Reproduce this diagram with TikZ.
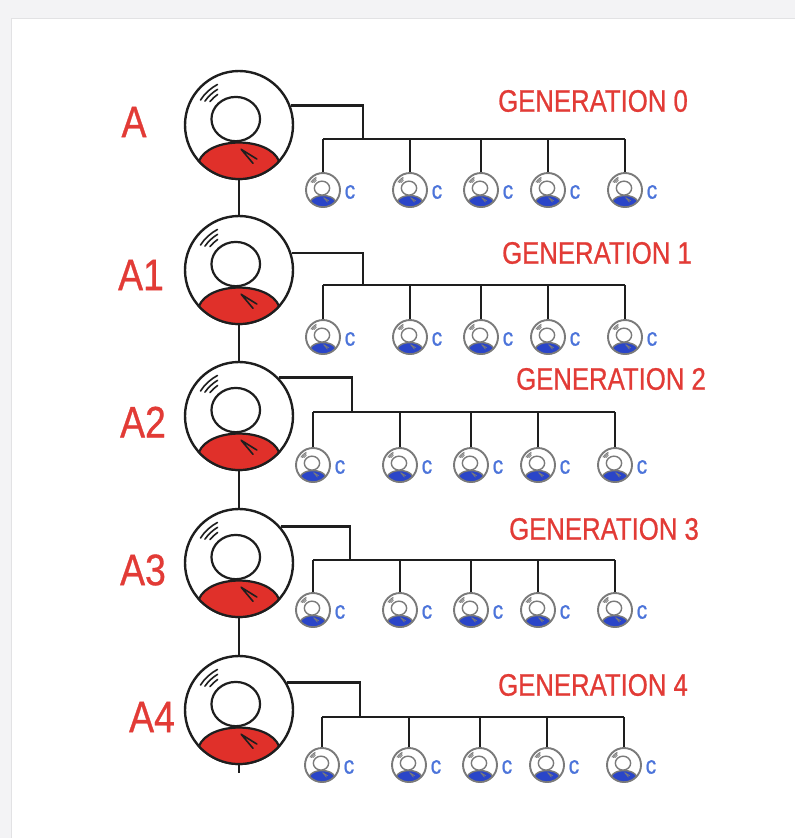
\documentclass[tikz,border=0pt]{standalone}
\usepackage{fontspec}
\setmainfont{Liberation Sans}
\newfontfamily\lettering[FakeBold=0.8]{Liberation Sans}
\definecolor{ink}{HTML}{1E1E1E}
\definecolor{redfill}{HTML}{E0302A}
\definecolor{redtext}{HTML}{E23B36}
\definecolor{bluefill}{HTML}{2A45C8}
\definecolor{bluetext}{HTML}{4C74DA}
\definecolor{ringgray}{HTML}{7A7A7A}
\definecolor{pagegray}{HTML}{F3F3F5}
\definecolor{cardedge}{HTML}{E2E2E4}

\tikzset{
  bigring/.style={circle, draw=ink, line width=2.4pt, fill=white,
    minimum size=108pt, inner sep=0pt},
  smallring/.style={circle, draw=ringgray, line width=1.9pt, fill=white,
    minimum size=34pt, inner sep=0pt},
  wire/.style={draw=ink, line width=2.6pt},
  alab/.style={text=redtext, font=\lettering\fontsize{44}{44}\selectfont, xscale=0.85, inner sep=0pt},
  glab/.style={text=redtext, font=\lettering\fontsize{31}{31}\selectfont, xscale=0.83, inner sep=0pt},
  clab/.style={text=bluetext, font=\lettering\fontsize{25}{25}\selectfont, xscale=0.85, inner sep=0pt},
  % a person in a ring, drawn for unit radius: body fill, stroke, line width, thin width
  pics/person/.style n args={4}{code={
    \filldraw[fill=#1, draw=#2, line width=#3]
      (222:1) arc[start angle=222, end angle=318, radius=1]
      .. controls (0.55,-0.21) and (-0.55,-0.21) .. (222:1) -- cycle;
    \draw[#2, line width=#3, fill=white] (-0.06,0.11) ellipse [x radius=0.45, y radius=0.41];
    \draw[#2, line width=#4, line cap=round]
      (118:0.85) arc[start angle=118, end angle=147, radius=0.85]
      (121:0.77) arc[start angle=121, end angle=145, radius=0.77]
      (125:0.69) arc[start angle=125, end angle=141, radius=0.69];
    \draw[#2, line width=#4, line cap=round]
      (0.04,-0.45) -- (0.33,-0.63)
      (0.04,-0.45) -- (0.26,-0.71);
  }}
}

\begin{document}
\begin{tikzpicture}[x=1pt, y=1pt]
  \useasboundingbox (0,0) rectangle (795,-838);
  \fill[pagegray] (0,0) rectangle (795,-838);
  \filldraw[fill=white, draw=cardedge, line width=1pt] (11,-18) rectangle (810,-850);

  \foreach \g/\cy/\ang/\jx/\by/\sy/\kb/\gx/\gy/\ax/\ay/\lab in {
      0/125/21.7/363/139/190/323/593/101/134/122/A,
      1/270/18.3/363/285/337/323/597/253/141/275/A1,
      2/416/44.7/352/412/465/313/611/379/143/422/A2,
      3/563/41.8/350/560/610/313/604/529/143/570/A3,
      4/710/30.0/360/717/765/322/593/685/152/717/A4}
  {
    \node[bigring] (A\g) at (239,-\cy) {};
    \pic[scale=54] at (A\g) {person={redfill}{ink}{2.2pt}{1.6pt}};
    \node[alab] (L\g) at (\ax,-\ay) {\lab};
    \node[glab] (G\g) at (\gx,-\gy) {GENERATION \g};
    \coordinate (J\g) at (\jx,-\by);
    \draw[wire] (A\g.\ang) -| (J\g);
    \foreach \dx [count=\i] in {0,87,158,225,302} {
      \node[smallring] (c\g-\i) at (\kb+\dx,-\sy) {};
      \pic[scale=17] at (c\g-\i) {person={bluefill}{ringgray}{1.4pt}{0.8pt}};
      \node[clab] (t\g-\i) at ([xshift=27pt, yshift=-2pt]c\g-\i.center) {c};
      \draw[wire] (c\g-\i.north) -- (c\g-\i.north |- J\g);
    }
    \draw[wire] (c\g-1.north |- J\g) -- (c\g-5.north |- J\g);
  }

  % the line of descent joining the five rings
  \foreach \a/\b in {0/1, 1/2, 2/3, 3/4}
    \draw[wire] (A\a.south) -- (A\b.north);
  \coordinate (tail) at ([yshift=-8pt]A4.south);
  \draw[wire] (A4.south) -- (tail);
\end{tikzpicture}
\end{document}
